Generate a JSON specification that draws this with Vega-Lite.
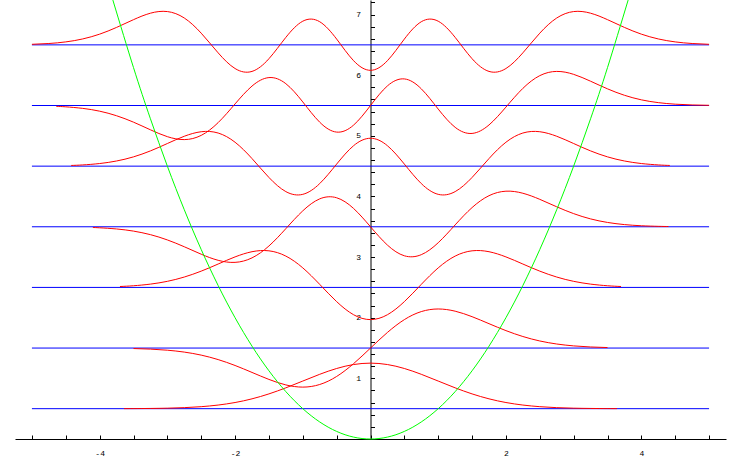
{
  "$schema": "https://vega.github.io/schema/vega-lite/v6.json",
  "width": 711,
  "height": 439,
  "autosize": {"type": "none"},
  "padding": {"left": 15, "top": 0, "right": 16, "bottom": 19},
  "background": "white",
  "config": {
    "view": {"stroke": null},
    "axis": {
      "grid": false,
      "labelFont": "Liberation Mono",
      "labelFontSize": 8,
      "labelColor": "black",
      "tickColor": "black",
      "domainColor": "black",
      "domainWidth": 1,
      "tickWidth": 1,
      "labelOverlap": false,
      "labelFlush": false,
      "zindex": 1
    }
  },
  "datasets": {
    "levels": [
      {"x": -5, "x2": 5, "y": 0.5},
      {"x": -5, "x2": 5, "y": 1.5},
      {"x": -5, "x2": 5, "y": 2.5},
      {"x": -5, "x2": 5, "y": 3.5},
      {"x": -5, "x2": 5, "y": 4.5},
      {"x": -5, "x2": 5, "y": 5.5},
      {"x": -5, "x2": 5, "y": 6.5}
    ],
    "psi": [
      {"n": 0, "x": -3.64, "y": 0.501}, {"n": 0, "x": -3.5, "y": 0.5016}, {"n": 0, "x": -3.25, "y": 0.5038}, {"n": 0, "x": -3.0, "y": 0.5083}, {"n": 0, "x": -2.75, "y": 0.5171}, {"n": 0, "x": -2.5, "y": 0.533}, {"n": 0, "x": -2.25, "y": 0.5598}, {"n": 0, "x": -2.0, "y": 0.6017}, {"n": 0, "x": -1.75, "y": 0.6624}, {"n": 0, "x": -1.5, "y": 0.7439}, {"n": 0, "x": -1.25, "y": 0.8439}, {"n": 0, "x": -1.0, "y": 0.9556}, {"n": 0, "x": -0.75, "y": 1.067}, {"n": 0, "x": -0.5, "y": 1.1629}, {"n": 0, "x": -0.25, "y": 1.228}, {"n": 0, "x": 0, "y": 1.2511}, {"n": 0, "x": 0.25, "y": 1.228}, {"n": 0, "x": 0.5, "y": 1.1629}, {"n": 0, "x": 0.75, "y": 1.067}, {"n": 0, "x": 1.0, "y": 0.9556}, {"n": 0, "x": 1.25, "y": 0.8439}, {"n": 0, "x": 1.5, "y": 0.7439}, {"n": 0, "x": 1.75, "y": 0.6624}, {"n": 0, "x": 2.0, "y": 0.6017}, {"n": 0, "x": 2.25, "y": 0.5598}, {"n": 0, "x": 2.5, "y": 0.533}, {"n": 0, "x": 2.75, "y": 0.5171}, {"n": 0, "x": 3.0, "y": 0.5083}, {"n": 0, "x": 3.25, "y": 0.5038}, {"n": 0, "x": 3.5, "y": 0.5016}, {"n": 0, "x": 3.64, "y": 0.501},
      {"n": 1, "x": -3.5, "y": 1.4919}, {"n": 1, "x": -3.25, "y": 1.4824}, {"n": 1, "x": -3.0, "y": 1.4646}, {"n": 1, "x": -2.75, "y": 1.4334}, {"n": 1, "x": -2.5, "y": 1.3833}, {"n": 1, "x": -2.25, "y": 1.3098}, {"n": 1, "x": -2.0, "y": 1.2125}, {"n": 1, "x": -1.75, "y": 1.098}, {"n": 1, "x": -1.5, "y": 0.9827}, {"n": 1, "x": -1.25, "y": 0.8921}, {"n": 1, "x": -1.0, "y": 0.8557}, {"n": 1, "x": -0.75, "y": 0.8986}, {"n": 1, "x": -0.5, "y": 1.0313}, {"n": 1, "x": -0.25, "y": 1.2426}, {"n": 1, "x": 0, "y": 1.5}, {"n": 1, "x": 0.25, "y": 1.7574}, {"n": 1, "x": 0.5, "y": 1.9687}, {"n": 1, "x": 0.75, "y": 2.1014}, {"n": 1, "x": 1.0, "y": 2.1443}, {"n": 1, "x": 1.25, "y": 2.1079}, {"n": 1, "x": 1.5, "y": 2.0173}, {"n": 1, "x": 1.75, "y": 1.902}, {"n": 1, "x": 2.0, "y": 1.7875}, {"n": 1, "x": 2.25, "y": 1.6902}, {"n": 1, "x": 2.5, "y": 1.6167}, {"n": 1, "x": 2.75, "y": 1.5666}, {"n": 1, "x": 3.0, "y": 1.5354}, {"n": 1, "x": 3.25, "y": 1.5176}, {"n": 1, "x": 3.5, "y": 1.5081},
      {"n": 2, "x": -3.7, "y": 2.5149}, {"n": 2, "x": -3.5, "y": 2.5273}, {"n": 2, "x": -3.25, "y": 2.5544}, {"n": 2, "x": -3.0, "y": 2.6003}, {"n": 2, "x": -2.75, "y": 2.671}, {"n": 2, "x": -2.5, "y": 2.7684}, {"n": 2, "x": -2.25, "y": 2.8856}, {"n": 2, "x": -2.0, "y": 3.0032}, {"n": 2, "x": -1.75, "y": 3.0887}, {"n": 2, "x": -1.5, "y": 3.1035}, {"n": 2, "x": -1.25, "y": 3.0167}, {"n": 2, "x": -1.0, "y": 2.8222}, {"n": 2, "x": -0.75, "y": 2.5501}, {"n": 2, "x": -0.5, "y": 2.2656}, {"n": 2, "x": -0.25, "y": 2.0496}, {"n": 2, "x": 0, "y": 1.9689}, {"n": 2, "x": 0.25, "y": 2.0496}, {"n": 2, "x": 0.5, "y": 2.2656}, {"n": 2, "x": 0.75, "y": 2.5501}, {"n": 2, "x": 1.0, "y": 2.8222}, {"n": 2, "x": 1.25, "y": 3.0167}, {"n": 2, "x": 1.5, "y": 3.1035}, {"n": 2, "x": 1.75, "y": 3.0887}, {"n": 2, "x": 2.0, "y": 3.0032}, {"n": 2, "x": 2.25, "y": 2.8856}, {"n": 2, "x": 2.5, "y": 2.7684}, {"n": 2, "x": 2.75, "y": 2.671}, {"n": 2, "x": 3.0, "y": 2.6003}, {"n": 2, "x": 3.25, "y": 2.5544}, {"n": 2, "x": 3.5, "y": 2.5273}, {"n": 2, "x": 3.7, "y": 2.5149},
      {"n": 3, "x": -4.1, "y": 3.4878}, {"n": 3, "x": -4.0, "y": 3.4831}, {"n": 3, "x": -3.75, "y": 3.4639}, {"n": 3, "x": -3.5, "y": 3.4286}, {"n": 3, "x": -3.25, "y": 3.3701}, {"n": 3, "x": -3.0, "y": 3.2832}, {"n": 3, "x": -2.75, "y": 3.1704}, {"n": 3, "x": -2.5, "y": 3.0475}, {"n": 3, "x": -2.25, "y": 2.9469}, {"n": 3, "x": -2.0, "y": 2.9131}, {"n": 3, "x": -1.75, "y": 2.9871}, {"n": 3, "x": -1.5, "y": 3.1832}, {"n": 3, "x": -1.25, "y": 3.469}, {"n": 3, "x": -1.0, "y": 3.763}, {"n": 3, "x": -0.75, "y": 3.9603}, {"n": 3, "x": -0.5, "y": 3.9784}, {"n": 3, "x": -0.25, "y": 3.8021}, {"n": 3, "x": 0, "y": 3.5}, {"n": 3, "x": 0.25, "y": 3.1979}, {"n": 3, "x": 0.5, "y": 3.0216}, {"n": 3, "x": 0.75, "y": 3.0397}, {"n": 3, "x": 1.0, "y": 3.237}, {"n": 3, "x": 1.25, "y": 3.531}, {"n": 3, "x": 1.5, "y": 3.8168}, {"n": 3, "x": 1.75, "y": 4.0129}, {"n": 3, "x": 2.0, "y": 4.0869}, {"n": 3, "x": 2.25, "y": 4.0531}, {"n": 3, "x": 2.5, "y": 3.9525}, {"n": 3, "x": 2.75, "y": 3.8296}, {"n": 3, "x": 3.0, "y": 3.7168}, {"n": 3, "x": 3.25, "y": 3.6299}, {"n": 3, "x": 3.5, "y": 3.5714}, {"n": 3, "x": 3.75, "y": 3.5361}, {"n": 3, "x": 4.0, "y": 3.5169}, {"n": 3, "x": 4.25, "y": 3.5073}, {"n": 3, "x": 4.4, "y": 3.5043},
      {"n": 4, "x": -4.42, "y": 4.5114}, {"n": 4, "x": -4.25, "y": 4.52}, {"n": 4, "x": -4.0, "y": 4.543}, {"n": 4, "x": -3.75, "y": 4.5848}, {"n": 4, "x": -3.5, "y": 4.653}, {"n": 4, "x": -3.25, "y": 4.7515}, {"n": 4, "x": -3.0, "y": 4.873}, {"n": 4, "x": -2.75, "y": 4.9928}, {"n": 4, "x": -2.5, "y": 5.0675}, {"n": 4, "x": -2.25, "y": 5.0461}, {"n": 4, "x": -2.0, "y": 4.8942}, {"n": 4, "x": -1.75, "y": 4.6249}, {"n": 4, "x": -1.5, "y": 4.3133}, {"n": 4, "x": -1.25, "y": 4.0799}, {"n": 4, "x": -1.0, "y": 4.035}, {"n": 4, "x": -0.75, "y": 4.2125}, {"n": 4, "x": -0.5, "y": 4.5338}, {"n": 4, "x": -0.25, "y": 4.8367}, {"n": 4, "x": 0, "y": 4.96}, {"n": 4, "x": 0.25, "y": 4.8367}, {"n": 4, "x": 0.5, "y": 4.5338}, {"n": 4, "x": 0.75, "y": 4.2125}, {"n": 4, "x": 1.0, "y": 4.035}, {"n": 4, "x": 1.25, "y": 4.0799}, {"n": 4, "x": 1.5, "y": 4.3133}, {"n": 4, "x": 1.75, "y": 4.6249}, {"n": 4, "x": 2.0, "y": 4.8942}, {"n": 4, "x": 2.25, "y": 5.0461}, {"n": 4, "x": 2.5, "y": 5.0675}, {"n": 4, "x": 2.75, "y": 4.9928}, {"n": 4, "x": 3.0, "y": 4.873}, {"n": 4, "x": 3.25, "y": 4.7515}, {"n": 4, "x": 3.5, "y": 4.653}, {"n": 4, "x": 3.75, "y": 4.5848}, {"n": 4, "x": 4.0, "y": 4.543}, {"n": 4, "x": 4.25, "y": 4.52}, {"n": 4, "x": 4.42, "y": 4.5114},
      {"n": 5, "x": -4.64, "y": 5.4863}, {"n": 5, "x": -4.5, "y": 5.4781}, {"n": 5, "x": -4.25, "y": 5.4527}, {"n": 5, "x": -4.0, "y": 5.4065}, {"n": 5, "x": -3.75, "y": 5.3313}, {"n": 5, "x": -3.5, "y": 5.2252}, {"n": 5, "x": -3.25, "y": 5.0993}, {"n": 5, "x": -3.0, "y": 4.9862}, {"n": 5, "x": -2.75, "y": 4.9377}, {"n": 5, "x": -2.5, "y": 5.0074}, {"n": 5, "x": -2.25, "y": 5.2177}, {"n": 5, "x": -2.0, "y": 5.5263}, {"n": 5, "x": -1.75, "y": 5.8205}, {"n": 5, "x": -1.5, "y": 5.9604}, {"n": 5, "x": -1.25, "y": 5.8598}, {"n": 5, "x": -1.0, "y": 5.5588}, {"n": 5, "x": -0.75, "y": 5.2247}, {"n": 5, "x": -0.5, "y": 5.0614}, {"n": 5, "x": -0.25, "y": 5.1766}, {"n": 5, "x": 0, "y": 5.5}, {"n": 5, "x": 0.25, "y": 5.8234}, {"n": 5, "x": 0.5, "y": 5.9386}, {"n": 5, "x": 0.75, "y": 5.7753}, {"n": 5, "x": 1.0, "y": 5.4412}, {"n": 5, "x": 1.25, "y": 5.1402}, {"n": 5, "x": 1.5, "y": 5.0396}, {"n": 5, "x": 1.75, "y": 5.1795}, {"n": 5, "x": 2.0, "y": 5.4737}, {"n": 5, "x": 2.25, "y": 5.7823}, {"n": 5, "x": 2.5, "y": 5.9926}, {"n": 5, "x": 2.75, "y": 6.0623}, {"n": 5, "x": 3.0, "y": 6.0138}, {"n": 5, "x": 3.25, "y": 5.9007}, {"n": 5, "x": 3.5, "y": 5.7748}, {"n": 5, "x": 3.75, "y": 5.6687}, {"n": 5, "x": 4.0, "y": 5.5935}, {"n": 5, "x": 4.25, "y": 5.5473}, {"n": 5, "x": 4.5, "y": 5.5219}, {"n": 5, "x": 4.75, "y": 5.5093}, {"n": 5, "x": 5.0, "y": 5.5036},
      {"n": 6, "x": -5.0, "y": 6.5094}, {"n": 6, "x": -4.75, "y": 6.5224}, {"n": 6, "x": -4.5, "y": 6.5489}, {"n": 6, "x": -4.25, "y": 6.5977}, {"n": 6, "x": -4.0, "y": 6.6769}, {"n": 6, "x": -3.75, "y": 6.7878}, {"n": 6, "x": -3.5, "y": 6.9157}, {"n": 6, "x": -3.25, "y": 7.0224}, {"n": 6, "x": -3.0, "y": 7.0495}, {"n": 6, "x": -2.75, "y": 6.943}, {"n": 6, "x": -2.5, "y": 6.6929}, {"n": 6, "x": -2.25, "y": 6.3683}, {"n": 6, "x": -2.0, "y": 6.1098}, {"n": 6, "x": -1.75, "y": 6.0622}, {"n": 6, "x": -1.5, "y": 6.2717}, {"n": 6, "x": -1.25, "y": 6.6238}, {"n": 6, "x": -1.0, "y": 6.8905}, {"n": 6, "x": -0.75, "y": 6.8817}, {"n": 6, "x": -0.5, "y": 6.5957}, {"n": 6, "x": -0.25, "y": 6.2393}, {"n": 6, "x": 0, "y": 6.0801}, {"n": 6, "x": 0.25, "y": 6.2393}, {"n": 6, "x": 0.5, "y": 6.5957}, {"n": 6, "x": 0.75, "y": 6.8817}, {"n": 6, "x": 1.0, "y": 6.8905}, {"n": 6, "x": 1.25, "y": 6.6238}, {"n": 6, "x": 1.5, "y": 6.2717}, {"n": 6, "x": 1.75, "y": 6.0622}, {"n": 6, "x": 2.0, "y": 6.1098}, {"n": 6, "x": 2.25, "y": 6.3683}, {"n": 6, "x": 2.5, "y": 6.6929}, {"n": 6, "x": 2.75, "y": 6.943}, {"n": 6, "x": 3.0, "y": 7.0495}, {"n": 6, "x": 3.25, "y": 7.0224}, {"n": 6, "x": 3.5, "y": 6.9157}, {"n": 6, "x": 3.75, "y": 6.7878}, {"n": 6, "x": 4.0, "y": 6.6769}, {"n": 6, "x": 4.25, "y": 6.5977}, {"n": 6, "x": 4.5, "y": 6.5489}, {"n": 6, "x": 4.75, "y": 6.5224}, {"n": 6, "x": 5.0, "y": 6.5094}
    ],
    "pot": [
      {"x": -3.805, "y": 7.239}, {"x": -3.5, "y": 6.125}, {"x": -3.25, "y": 5.28125}, {"x": -3.0, "y": 4.5}, {"x": -2.75, "y": 3.78125}, {"x": -2.5, "y": 3.125}, {"x": -2.25, "y": 2.53125}, {"x": -2.0, "y": 2.0}, {"x": -1.75, "y": 1.53125}, {"x": -1.5, "y": 1.125}, {"x": -1.25, "y": 0.78125}, {"x": -1.0, "y": 0.5}, {"x": -0.75, "y": 0.28125}, {"x": -0.5, "y": 0.125}, {"x": -0.25, "y": 0.03125}, {"x": 0, "y": 0}, {"x": 0.25, "y": 0.03125}, {"x": 0.5, "y": 0.125}, {"x": 0.75, "y": 0.28125}, {"x": 1.0, "y": 0.5}, {"x": 1.25, "y": 0.78125}, {"x": 1.5, "y": 1.125}, {"x": 1.75, "y": 1.53125}, {"x": 2.0, "y": 2.0}, {"x": 2.25, "y": 2.53125}, {"x": 2.5, "y": 3.125}, {"x": 2.75, "y": 3.78125}, {"x": 3.0, "y": 4.5}, {"x": 3.25, "y": 5.28125}, {"x": 3.5, "y": 6.125}, {"x": 3.805, "y": 7.239}
    ]
  },
  "encoding": {
    "x": {
      "field": "x",
      "type": "quantitative",
      "scale": {"domain": [-5.25, 5.25], "nice": false, "zero": false},
      "axis": {
        "title": null,
        "orient": "bottom",
        "values": [-5, -4.5, -4, -3.5, -3, -2.5, -2, -1.5, -1, -0.5, 0, 0.5, 1, 1.5, 2, 2.5, 3, 3.5, 4, 4.5, 5],
        "labelExpr": "(abs(datum.value) == 2 || abs(datum.value) == 4) ? toString(datum.value) : ''",
        "tickSize": -4,
        "labelPadding": 14
      }
    },
    "y": {
      "field": "y",
      "type": "quantitative",
      "scale": {"domain": [0, 7.24], "nice": false, "zero": false},
      "axis": {
        "title": null,
        "orient": "left",
        "offset": -355.5,
        "values": [0.2, 0.4, 0.6, 0.8, 1, 1.2, 1.4, 1.6, 1.8, 2, 2.2, 2.4, 2.6, 2.8, 3, 3.2, 3.4, 3.6, 3.8, 4, 4.2, 4.4, 4.6, 4.8, 5, 5.2, 5.4, 5.6, 5.8, 6, 6.2, 6.4, 6.6, 6.8, 7, 7.2],
        "labelExpr": "datum.value % 1 == 0 ? toString(datum.value) : ''",
        "tickSize": -4,
        "labelPadding": 14
      }
    }
  },
  "layer": [
    {
      "data": {"name": "levels"},
      "mark": {"type": "rule", "color": "#0000ff", "strokeWidth": 1},
      "encoding": {"x2": {"field": "x2"}}
    },
    {
      "data": {"name": "psi"},
      "mark": {"type": "line", "color": "#ff0000", "strokeWidth": 1, "interpolate": "natural"},
      "encoding": {"detail": {"field": "n", "type": "nominal"}}
    },
    {
      "data": {"name": "pot"},
      "mark": {"type": "line", "color": "#00ff00", "strokeWidth": 1, "interpolate": "natural"},
      "encoding": {}
    }
  ]
}
